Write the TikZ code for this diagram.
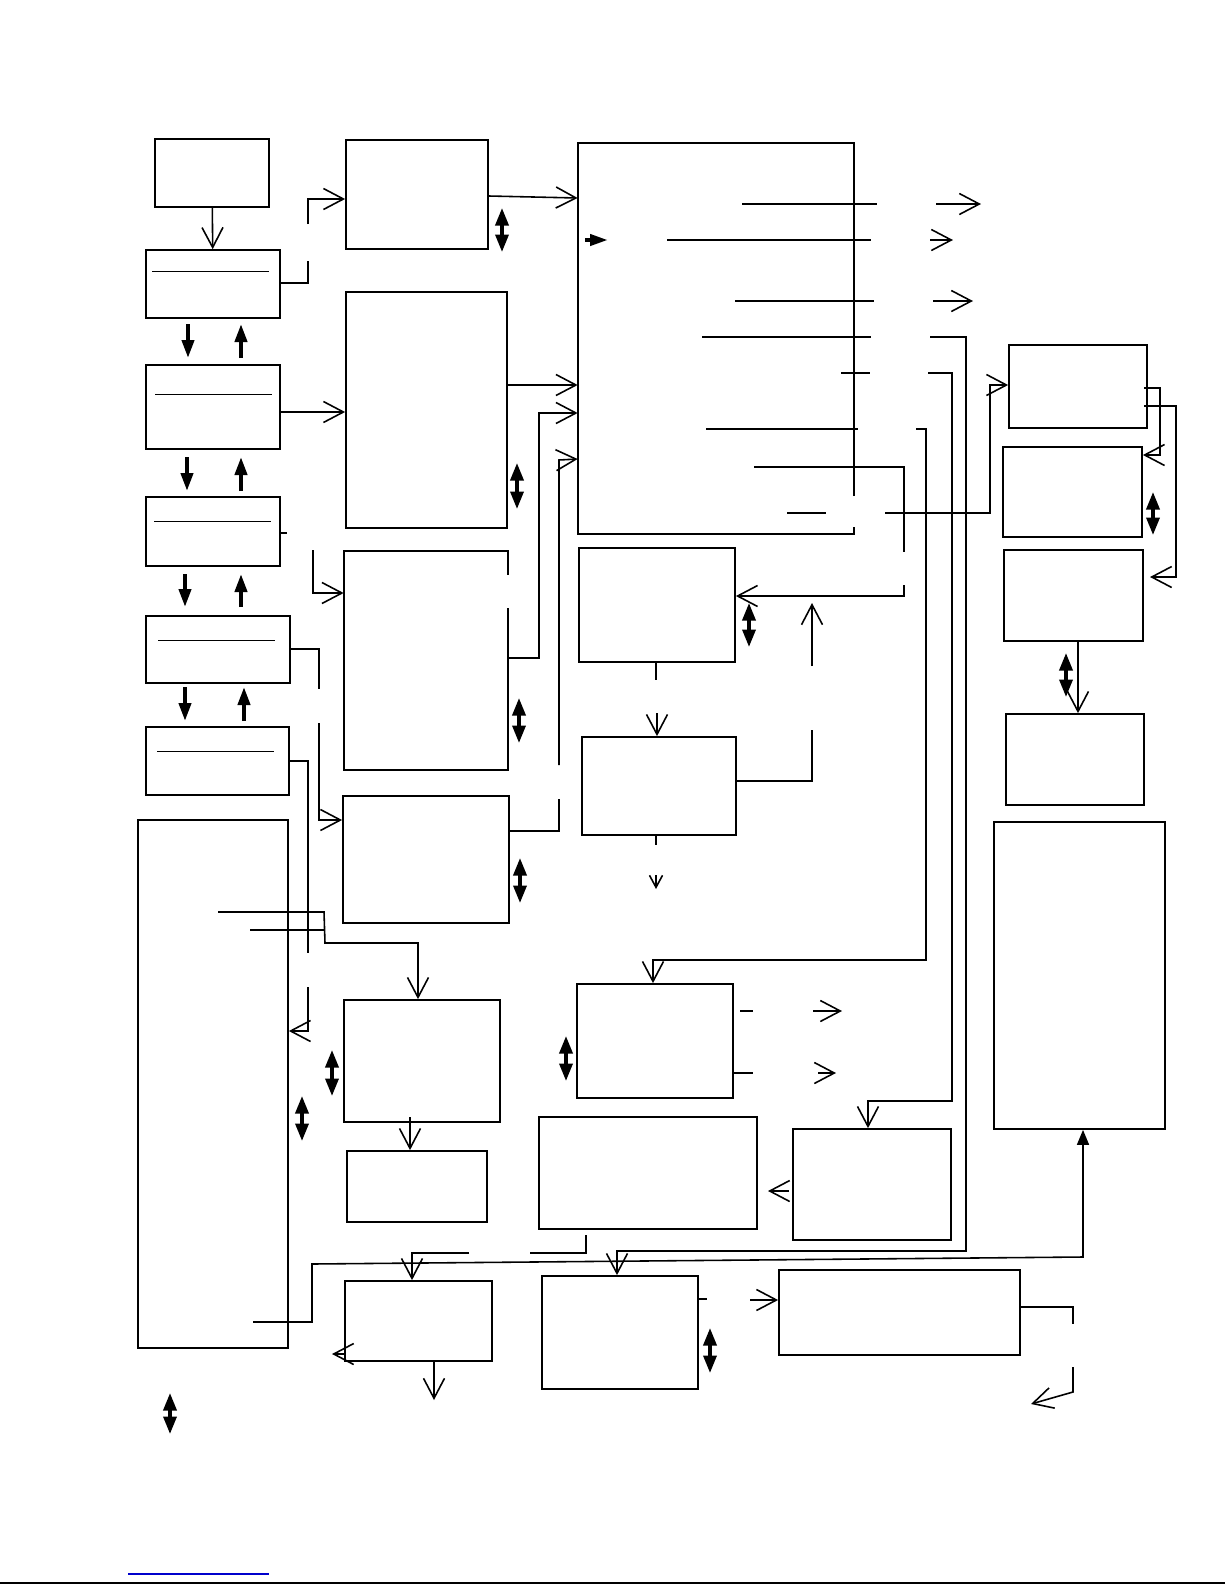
\documentclass[tikz,border=0pt]{standalone}
\usepackage{tikz}
\usetikzlibrary{arrows.meta,fit}
\tikzstyle{frame} = [line width=1pt]
\tikzstyle{blk} = [frame, draw, rectangle, inner sep=0pt]
\tikzstyle{hole} = [rectangle, inner sep=0pt]
\tikzstyle{wire} = [line width=0.9pt]
\tikzstyle{rule} = [line width=0.5pt]
\tikzstyle{flow} = [wire, -{Straight Barb[length=4mm,width=4.2mm]}]
\tikzstyle{flowsmall} = [wire, -{Straight Barb[length=2.4mm,width=2.6mm]}]
\tikzstyle{push} = [line width=0.8mm, -{Triangle[length=3.6mm,width=2.4mm]}]
\tikzstyle{dbl} = [line width=0.7mm, {Triangle[length=3.5mm,width=2.6mm]}-{Triangle[length=3.5mm,width=2.6mm]}]
\tikzstyle{lift} = [wire, -{Triangle[length=3mm,width=2.4mm]}]

\begin{document}
\begin{tikzpicture}[x=0.2mm,y=-0.2mm]
\useasboundingbox (0,0) rectangle (1225,1585);

% left column
\node (src) [blk, fit={(155,139) (269,207)}] {};
\node (lv1) [blk, fit={(146,250) (280,318)}] {};
\node (lv2) [blk, fit={(146,365) (280,449)}] {};
\node (lv3) [blk, fit={(146,497) (280,566)}] {};
\node (lv4) [blk, fit={(146,616) (290,683)}] {};
\node (lv5) [blk, fit={(146,727) (289,795)}] {};
\node (store) [blk, fit={(138,820) (288,1348)}] {};
\draw [rule] (152,271) -- (269,271);
\draw [rule] (155,394) -- (272,394);
\draw [rule] (154,521) -- (271,521);
\draw [rule] (158,640) -- (275,640);
\draw [rule] (157,751) -- (274,751);

% second column
\node (inA) [blk, fit={(346,140) (488,249)}] {};
\node (inB) [blk, fit={(346,292) (507,528)}] {};
\node (inC) [hole, fit={(344,551) (508,770)}] {};
\node (inD) [blk, fit={(343,796) (509,923)}] {};
\node (proc) [blk, fit={(344,1000) (500,1122)}] {};
\node (procout) [blk, fit={(347,1151) (487,1222)}] {};
\node (merge) [blk, fit={(345,1281) (492,1361)}] {};
\draw [frame] (inC.east |- 0,608) -- (inC.south east) -- (inC.south west) -- (inC.north west) -- (inC.north east) -- (inC.east |- 0,575);

% middle column
\node (core) [hole, fit={(578,143) (854,534)}] {};
\node (chk) [blk, fit={(579,548) (735,662)}] {};
\node (fix) [blk, fit={(582,737) (736,835)}] {};
\node (eval) [blk, fit={(577,984) (733,1098)}] {};
\node (report) [blk, fit={(539,1117) (757,1229)}] {};
\node (alert) [blk, fit={(793,1129) (951,1240)}] {};
\node (sum) [blk, fit={(542,1276) (698,1389)}] {};
\node (pub) [blk, fit={(779,1270) (1020,1355)}] {};
\draw [frame] (core.east |- 0,496) -- (core.north east) -- (core.north west) -- (core.south west) -- (core.south east) -- (core.east |- 0,527);

% right column
\node (ext) [blk, fit={(1009,345) (1147,428)}] {};
\node (extA) [blk, fit={(1003,447) (1142,537)}] {};
\node (extB) [blk, fit={(1004,550) (1143,641)}] {};
\node (extC) [blk, fit={(1006,714) (1144,805)}] {};
\node (archive) [blk, fit={(994,822) (1165,1129)}] {};

% up and down between the levels
\foreach \xd/\xu/\ya/\yb in {188/241/324/358, 187/241/457/491, 185/241/574/607, 185/244/687/721} {
  \draw [push] (\xd,\ya) -- (\xd,\yb);
  \draw [push] (\xu,\yb) -- (\xu,\ya);
}
\foreach \x/\ya/\yb in {502/208/252, 517/463/509, 519/698/743, 520/858/903, 332/1050/1096, 302/1096/1141, 170/1393/1434, 749/603/647, 566/1036/1081, 710/1328/1373, 1153/492/535, 1066/653/697}
  \draw [dbl] (\x,\ya) -- (\x,\yb);

% left side connectors
\draw [flow] (src) -- (lv1);
\draw [wire] (lv1.east |- 0,283) -- (308,283) -- (308,261);
\draw [flow] (308,224) -- (308,199) -- (inA.west |- 0,199);
\draw [flow] (lv2.east |- 0,412) -- (inB.west |- 0,412);
\draw [wire] (lv3.east |- 0,533) -- ++(6,0);
\draw [flow] (313,550) -- (313,593) -- (inC.west |- 0,593);
\draw [wire] (lv4.east |- 0,649) -- (319,649) -- (319,689);
\draw [flow] (319,723) -- (319,820) -- (inD.west |- 0,820);
\draw [wire] (lv5.east |- 0,761) -- (308,761) -- (308,953);
\draw [flow] (308,987) -- (308,1031) -- (store.east |- 0,1031);
\draw [flow] (218,912) -- (324,912) -- (325,943) -- (418,943) -- (proc.north -| 418,0);
\draw [wire] (250,930) -- (324,930);
\draw [flow] (410,1117) -- (procout.north -| 410,0);
\draw [lift] (253,1322) -- (312,1322) -- (312,1264) -- (1083,1257) -- (archive.south -| 1083,0);
\draw [wire] (586,1235) -- (586,1253) -- (530,1253);
\draw [flow] (469,1253) -- (412,1253) -- (merge.north -| 412,0);
\draw [flow] (merge.west |- 0,1354) -- (332,1354);
\draw [flow] (merge.south -| 434,0) -- (434,1400);

% into the core
\draw [flow] (inA.east |- 0,196) -- (core.west |- 0,198);
\draw [flow] (inB.east |- 0,385) -- (core.west |- 0,385);
\draw [flow] (inC.east |- 0,658) -- (539,658) -- (539,413) -- (core.west |- 0,413);
\draw [wire] (inD.east |- 0,831) -- (559,831) -- (559,799);
\draw [flow] (559,765) -- (559,460) -- (core.west |- 0,459);
\draw [line width=0.8mm, -{Triangle[length=3.6mm,width=2.2mm]}] (585,240) -- (608,240);

% out of the core
\draw [wire] (742,204) -- (877,204);
\draw [flow] (936,204) -- (981,204);
\draw [wire] (667,240) -- (871,240);
\draw [flow] (930,240) -- (953,240);
\draw [wire] (735,301) -- (874,301);
\draw [flow] (933,301) -- (973,301);
\draw [wire] (702,337) -- (871,337);
\draw [flow] (930,337) -- (966,337) -- (966,1251) -- (617,1251) -- (sum.north -| 617,0);
\draw [wire] (841,373) -- (870,373);
\draw [flow] (928,373) -- (952,373) -- (952,1101) -- (868,1101) -- (alert.north -| 868,0);
\draw [wire] (706,429) -- (858,429);
\draw [flow] (916,429) -- (926,429) -- (926,960) -- (653,960) -- (eval.north -| 653,0);
\draw [wire] (754,467) -- (904,467) -- (904,552);
\draw [flow] (904,585) -- (904,596) -- (chk.east |- 0,596);
\draw [wire] (787,513) -- (826,513);
\draw [flow] (885,513) -- (990,513) -- (990,385) -- (ext.west |- 0,385);

% middle connectors
\draw [wire] (chk.south -| 656,0) -- (656,680);
\draw [flow] (657,713) -- (fix.north -| 657,0);
\draw [wire] (fix.east |- 0,781) -- (812,781) -- (812,730);
\draw [flow] (812,666) -- (812,603);
\draw [wire] (fix.south -| 656,0) -- (656,845);
\draw [flowsmall] (656,875) -- (656,889);
\draw [wire] (740,1011) -- (753,1011);
\draw [flow] (813,1011) -- (842,1011);
\draw [wire] (eval.east |- 0,1073) -- (753,1073);
\draw [flow] (818,1073) -- (836,1073);
\draw [flow] (789,1191) -- (768,1191);
\draw [wire] (sum.east |- 0,1299) -- ++(8,0);
\draw [flow] (750,1300) -- (pub.west |- 0,1300);
\draw [wire] (pub.east |- 0,1307) -- (1073,1307) -- (1073,1324);
\draw [flow] (1073,1367) -- (1073,1392) -- (1031,1404);

% right side connectors
\draw [flow] (1144,388) -- (1160,388) -- (1160,455) -- (extA.east |- 0,455);
\draw [flow] (1144,406) -- (1176,406) -- (1176,577) -- (1150,577);
\draw [flow] (extB.south -| 1078,0) -- (extC.north -| 1078,0);

% page foot
\draw [blue!80!black, line width=0.8pt] (128,1574) -- (269,1574);
\draw [line width=0.9pt] (0,1583) -- (1225,1583);
\end{tikzpicture}
\end{document}
